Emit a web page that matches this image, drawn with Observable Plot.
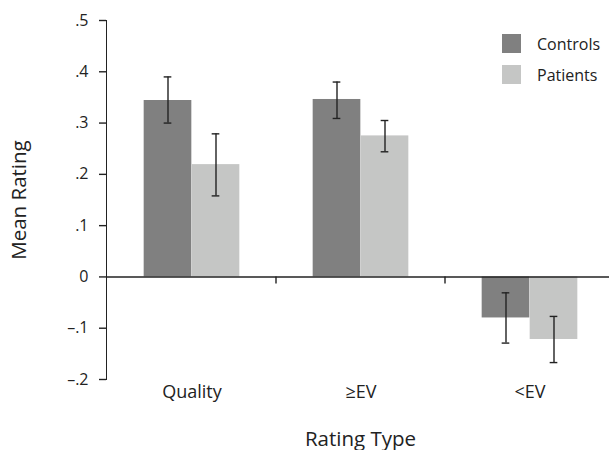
<!DOCTYPE html>
<html>
<head>
<meta charset="utf-8">
<script src="https://cdn.jsdelivr.net/npm/d3@7"></script>
<script src="https://cdn.jsdelivr.net/npm/@observablehq/plot@0.6"></script>
<style>
  html, body { margin: 0; padding: 0; background: #fff; overflow: hidden; }
  #wrap { position: relative; width: 609px; height: 450px; font-family: "Open Sans", sans-serif; color: #222; }
  #wrap svg { overflow: visible; }
  g[aria-label="x-axis tick label"] { font-size: 18px; }
  g[aria-label="x-axis label"], g[aria-label="y-axis label"] { font-size: 20.5px; }
  g[aria-label="y-axis tick"] path { stroke-width: 1.4; }
  .legend { position: absolute; left: 502px; top: 34px; font-size: 16px; }
  .legend .item { display: flex; align-items: center; height: 19px; margin-bottom: 12px; }
  .legend .sw { width: 19px; height: 19px; margin-right: 16px; }
</style>
</head>
<body>
<div id="wrap"></div>
<script>
const categories = ["Quality", "≥EV", "<EV"];
const groups = ["Controls", "Patients"];
const groupColors = ["#808080", "#c5c6c5"];

const controlsMean = [0.344, 0.346, -0.080];
const controlsLo   = [0.300, 0.309, -0.129];
const controlsHi   = [0.390, 0.380, -0.031];

const patientsMean = [0.219, 0.275, -0.122];
const patientsLo   = [0.158, 0.244, -0.167];
const patientsHi   = [0.279, 0.305, -0.077];

const yTicks = [-0.2, -0.1, 0, 0.1, 0.2, 0.3, 0.4, 0.5];
const yTickLabels = ["–.2", "–.1", "0", ".1", ".2", ".3", ".4", ".5"];

const rows = [];
categories.forEach((c, i) => {
  rows.push({category: c, group: groups[0], value: controlsMean[i], lo: controlsLo[i], hi: controlsHi[i]});
  rows.push({category: c, group: groups[1], value: patientsMean[i], lo: patientsLo[i], hi: patientsHi[i]});
});
const controls = rows.filter(d => d.group === groups[0]);
const patients = rows.filter(d => d.group === groups[1]);

const W = 609, H = 450;
const mL = 106, mR = -5, mT = 20, mB = 71;
const BW = (W - mR - mL) / categories.length;
const barW = 48, capW = 8, off = 24;
const barInset = (BW - barW) / 2;
const capInset = (BW - capW) / 2;
const ink = "#222";

const boundaryTicks = (index, scales) => {
  const g = d3.create("svg:g").attr("stroke", ink).attr("stroke-width", 1.4);
  categories.slice(1).forEach(c => {
    const x0 = scales.x(c);
    g.append("path").attr("d", `M${x0},${scales.y(0)}v7`);
  });
  return g.node();
};

const chart = Plot.plot({
  width: W,
  height: H,
  marginLeft: mL,
  marginRight: mR,
  marginTop: mT,
  marginBottom: mB,
  style: {fontFamily: "'Open Sans', sans-serif", fontSize: "16px", color: ink, background: "transparent"},
  x: {
    type: "band",
    domain: categories,
    padding: 0,
    tickSize: 0,
    tickPadding: 6,
    label: "Rating Type",
    labelAnchor: "center",
    labelArrow: "none",
    labelOffset: 66
  },
  y: {
    domain: [-0.2, 0.5],
    ticks: yTicks,
    tickFormat: (d) => yTickLabels[yTicks.indexOf(d)],
    tickSize: 7,
    tickPadding: 11,
    line: true,
    label: "Mean Rating",
    labelAnchor: "center",
    labelArrow: "none",
    labelOffset: 95
  },
  marks: [
    Plot.barY(controls, {x: "category", y: "value", fill: groupColors[0], insetLeft: barInset, insetRight: barInset, dx: -off}),
    Plot.barY(patients, {x: "category", y: "value", fill: groupColors[1], insetLeft: barInset, insetRight: barInset, dx: off}),
    Plot.ruleY([0], {stroke: ink, strokeWidth: 1.4}),
    Plot.ruleX(controls, {x: "category", y1: "lo", y2: "hi", stroke: ink, strokeWidth: 1.4, dx: -off}),
    Plot.ruleX(patients, {x: "category", y1: "lo", y2: "hi", stroke: ink, strokeWidth: 1.4, dx: off}),
    Plot.tickY(controls, {x: "category", y: "lo", stroke: ink, strokeWidth: 1.4, insetLeft: capInset, insetRight: capInset, dx: -off}),
    Plot.tickY(controls, {x: "category", y: "hi", stroke: ink, strokeWidth: 1.4, insetLeft: capInset, insetRight: capInset, dx: -off}),
    Plot.tickY(patients, {x: "category", y: "lo", stroke: ink, strokeWidth: 1.4, insetLeft: capInset, insetRight: capInset, dx: off}),
    Plot.tickY(patients, {x: "category", y: "hi", stroke: ink, strokeWidth: 1.4, insetLeft: capInset, insetRight: capInset, dx: off}),
    boundaryTicks
  ]
});

const wrap = document.getElementById("wrap");
wrap.appendChild(chart);

const legend = document.createElement("div");
legend.className = "legend";
groups.forEach((g, i) => {
  const item = document.createElement("div");
  item.className = "item";
  const sw = document.createElement("div");
  sw.className = "sw";
  sw.style.background = groupColors[i];
  const label = document.createElement("span");
  label.textContent = g;
  item.appendChild(sw);
  item.appendChild(label);
  legend.appendChild(item);
});
wrap.appendChild(legend);
</script>
</body>
</html>
